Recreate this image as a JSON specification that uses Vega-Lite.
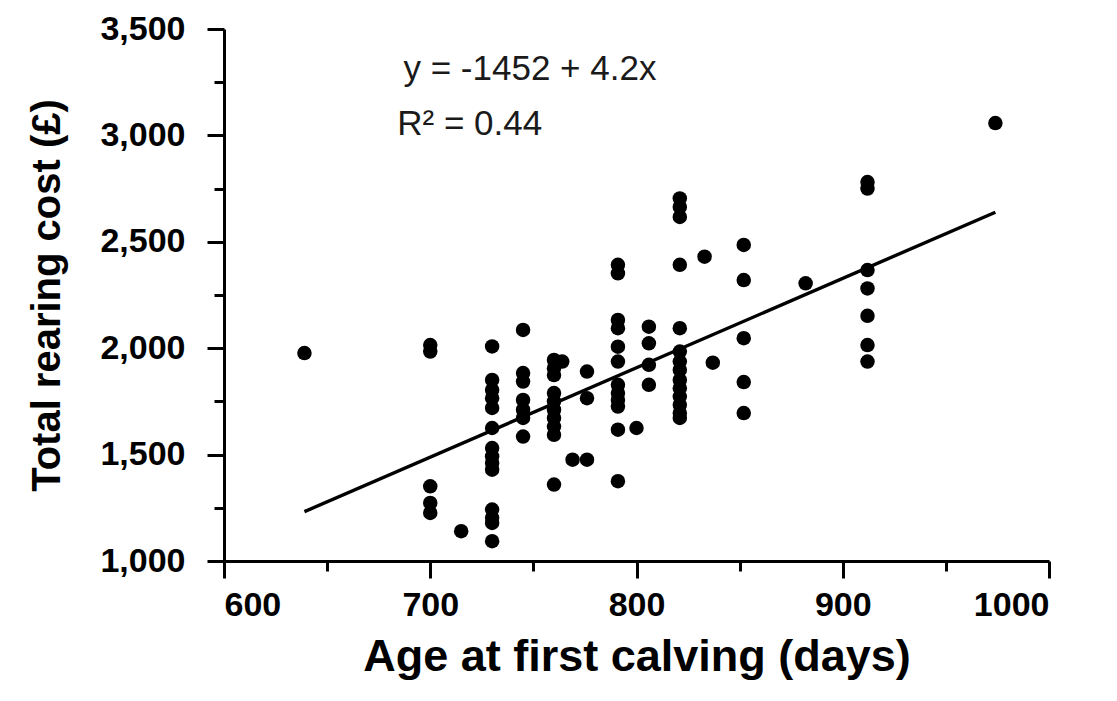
{
  "$schema": "https://vega.github.io/schema/vega-lite/v6.json",
  "width": 825,
  "height": 532,
  "autosize": {"type": "none"},
  "padding": {"left": 224, "top": 29, "right": 68, "bottom": 140},
  "background": "white",
  "config": {
    "view": {"stroke": null},
    "font": "Liberation Sans"
  },
  "datasets": {
    "pts": [
      {"age": 639, "cost": 1977},
      {"age": 700, "cost": 2015}, {"age": 700, "cost": 1984}, {"age": 700, "cost": 1351}, {"age": 700, "cost": 1273}, {"age": 700, "cost": 1226},
      {"age": 715, "cost": 1140},
      {"age": 730, "cost": 2008}, {"age": 730, "cost": 1851}, {"age": 730, "cost": 1804}, {"age": 730, "cost": 1765}, {"age": 730, "cost": 1719}, {"age": 730, "cost": 1625}, {"age": 730, "cost": 1531}, {"age": 730, "cost": 1492}, {"age": 730, "cost": 1461}, {"age": 730, "cost": 1429}, {"age": 730, "cost": 1242}, {"age": 730, "cost": 1203}, {"age": 730, "cost": 1179}, {"age": 730, "cost": 1093},
      {"age": 745, "cost": 2086}, {"age": 745, "cost": 1883}, {"age": 745, "cost": 1843}, {"age": 745, "cost": 1757}, {"age": 745, "cost": 1711}, {"age": 745, "cost": 1672}, {"age": 745, "cost": 1585},
      {"age": 760, "cost": 1945}, {"age": 760, "cost": 1906}, {"age": 760, "cost": 1874}, {"age": 760, "cost": 1789}, {"age": 760, "cost": 1750}, {"age": 760, "cost": 1711}, {"age": 760, "cost": 1672}, {"age": 760, "cost": 1632}, {"age": 760, "cost": 1593}, {"age": 760, "cost": 1359},
      {"age": 764, "cost": 1937},
      {"age": 769, "cost": 1476},
      {"age": 776, "cost": 1476}, {"age": 776, "cost": 1890}, {"age": 776, "cost": 1765},
      {"age": 791, "cost": 2392}, {"age": 791, "cost": 2352}, {"age": 791, "cost": 2133}, {"age": 791, "cost": 2094}, {"age": 791, "cost": 2007}, {"age": 791, "cost": 1937}, {"age": 791, "cost": 1828}, {"age": 791, "cost": 1789}, {"age": 791, "cost": 1757}, {"age": 791, "cost": 1726}, {"age": 791, "cost": 1617}, {"age": 791, "cost": 1375},
      {"age": 800, "cost": 1625},
      {"age": 806, "cost": 2101}, {"age": 806, "cost": 2023}, {"age": 806, "cost": 1922}, {"age": 806, "cost": 1828},
      {"age": 821, "cost": 2704}, {"age": 821, "cost": 2664}, {"age": 821, "cost": 2617}, {"age": 821, "cost": 2392}, {"age": 821, "cost": 2094}, {"age": 821, "cost": 1984}, {"age": 821, "cost": 1937}, {"age": 821, "cost": 1898}, {"age": 821, "cost": 1851}, {"age": 821, "cost": 1812}, {"age": 821, "cost": 1773}, {"age": 821, "cost": 1734}, {"age": 821, "cost": 1695}, {"age": 821, "cost": 1672},
      {"age": 833, "cost": 2430},
      {"age": 837, "cost": 1932},
      {"age": 852, "cost": 2485}, {"age": 852, "cost": 2320}, {"age": 852, "cost": 2047}, {"age": 852, "cost": 1841}, {"age": 852, "cost": 1695},
      {"age": 882, "cost": 2305},
      {"age": 912, "cost": 2781}, {"age": 912, "cost": 2750}, {"age": 912, "cost": 2367}, {"age": 912, "cost": 2281}, {"age": 912, "cost": 2152}, {"age": 912, "cost": 2015}, {"age": 912, "cost": 1937},
      {"age": 974, "cost": 3058}
    ],
    "fit": [
      {"age": 639, "cost": 1232},
      {"age": 974, "cost": 2639}
    ],
    "notes": [
      {"age": 687, "cost": 3260, "label": "y = -1452 + 4.2x"},
      {"age": 684, "cost": 3003, "label": "R² = 0.44"}
    ]
  },
  "encoding": {
    "x": {
      "field": "age",
      "type": "quantitative",
      "scale": {"domain": [600, 1000], "nice": false, "zero": false},
      "axis": {
        "title": "Age at first calving (days)",
        "values": [600, 650, 700, 750, 800, 850, 900, 950, 1000],
        "labelExpr": "datum.value % 100 === 0 ? format(datum.value, 'd') : ''",
        "tickSize": {"condition": {"test": "datum.value % 100 === 0", "value": 17}, "value": 10},
        "grid": false,
        "domainColor": "black",
        "domainWidth": 3,
        "tickColor": "black",
        "tickWidth": 3,
        "labelFont": "Liberation Sans",
        "labelFontWeight": "bold",
        "labelFontSize": 34,
        "labelColor": "black",
        "labelPadding": 10,
        "titleFont": "Liberation Sans",
        "titleFontWeight": "bold",
        "titleFontSize": 45,
        "titleColor": "black",
        "titlePadding": 12
      }
    },
    "y": {
      "field": "cost",
      "type": "quantitative",
      "scale": {"domain": [1000, 3500], "nice": false, "zero": false},
      "axis": {
        "title": "Total rearing cost (£)",
        "values": [1000, 1250, 1500, 1750, 2000, 2250, 2500, 2750, 3000, 3250, 3500],
        "labelExpr": "datum.value % 500 === 0 ? format(datum.value, ',d') : ''",
        "tickSize": {"condition": {"test": "datum.value % 500 === 0", "value": 17}, "value": 10},
        "grid": false,
        "domainColor": "black",
        "domainWidth": 3,
        "tickColor": "black",
        "tickWidth": 3,
        "labelFont": "Liberation Sans",
        "labelFontWeight": "bold",
        "labelFontSize": 34,
        "labelColor": "black",
        "labelPadding": 22,
        "titleFont": "Liberation Sans",
        "titleFontWeight": "bold",
        "titleFontSize": 40,
        "titleColor": "black",
        "titlePadding": 32
      }
    }
  },
  "layer": [
    {
      "data": {"name": "pts"},
      "mark": {"type": "circle", "size": 210, "color": "black", "opacity": 1}
    },
    {
      "data": {"name": "fit"},
      "mark": {"type": "line", "color": "black", "strokeWidth": 3.4}
    },
    {
      "data": {"name": "notes"},
      "mark": {"type": "text", "align": "left", "baseline": "alphabetic", "font": "Liberation Sans", "fontSize": 35, "color": "#1a1a1a"},
      "encoding": {"text": {"field": "label"}}
    }
  ]
}
